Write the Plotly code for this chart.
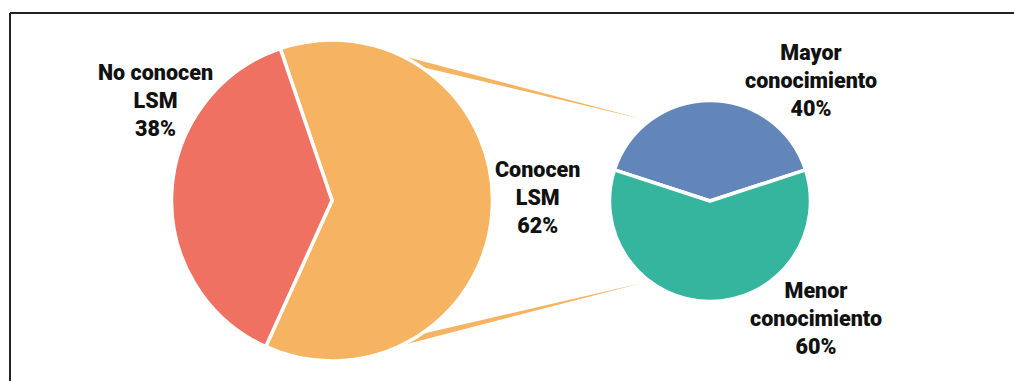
import math
import plotly.graph_objects as go

# ---------------- data ----------------
main_labels = ["Conocen LSM", "No conocen LSM"]
main_values = [62, 38]
sub_labels = ["Mayor conocimiento", "Menor conocimiento"]
sub_values = [40, 60]

main_colors = ["#F6B462", "#EE7161"]
sub_colors = ["#6386BA", "#35B59D"]

W, H = 1014, 381

def px(x, y):
    return x / W, (H - y) / H

# pie geometry (pixels)
L_CX, L_CY, L_R = 332, 200.5, 160.5
R_CX, R_CY, R_R = 710, 201, 100.5

def dom(cx, cy, r):
    x0, y1 = px(cx - r, cy - r)
    x1, y0 = px(cx + r, cy + r)
    return dict(x=[x0, x1], y=[y0, y1])

fig = go.Figure()
fig.add_trace(go.Pie(
    labels=main_labels, values=main_values, sort=False, direction="clockwise",
    rotation=-18.8,
    marker=dict(colors=main_colors, line=dict(color="white", width=3.5)),
    textinfo="none", hoverinfo="label+percent", showlegend=False,
    domain=dom(L_CX, L_CY, L_R),
))
fig.add_trace(go.Pie(
    labels=sub_labels, values=sub_values, sort=False, direction="clockwise",
    rotation=-sub_values[0] / sum(sub_values) * 180,
    marker=dict(colors=sub_colors, line=dict(color="white", width=3.5)),
    textinfo="none", hoverinfo="label+percent", showlegend=False,
    domain=dom(R_CX, R_CY, R_R),
))

# connectors (tapered wedges from main pie to sub pie)
r_main = L_R - 1.5
r_sub = R_R - 1.5

def on_main(deg):
    a = math.radians(deg)
    return L_CX + r_main * math.sin(a), L_CY - r_main * math.cos(a)

def on_sub(deg, k):
    a = math.radians(deg)
    return R_CX + r_sub * k * math.sin(a), R_CY - r_sub * k * math.cos(a)

shapes = []
for base_a, base_b, tip_ang in [(22, 32, -40), (148, 158, 220)]:
    p1 = px(*on_main(base_a))
    p2 = px(*on_main(base_b))
    p3 = px(*on_sub(tip_ang, 1.085))
    pc = px(L_CX, L_CY)
    path = f"M{pc[0]},{pc[1]} L{p1[0]},{p1[1]} L{p3[0]},{p3[1]} L{p2[0]},{p2[1]} Z"
    shapes.append(dict(type="path", xref="paper", yref="paper", path=path,
                       fillcolor=main_colors[0], line=dict(width=0), layer="below"))

# frame (top and left border)
tl = px(10, 13)
shapes.append(dict(type="line", xref="paper", yref="paper", x0=tl[0], y0=tl[1], x1=1.02, y1=tl[1],
                   line=dict(color="#222222", width=2)))
shapes.append(dict(type="line", xref="paper", yref="paper", x0=tl[0], y0=tl[1], x1=tl[0], y1=-0.05,
                   line=dict(color="#222222", width=2)))

FONT = "Roboto, Liberation Sans, sans-serif"

def label_text(name, value):
    words = name.split(" ")
    first = " ".join(words[:-1])
    return f"{first}<br>{words[-1]}<br>{value}%"

label_pos = {
    "No conocen LSM": (155, 100),
    "Conocen LSM": (537, 197),
    "Mayor conocimiento": (811, 80),
    "Menor conocimiento": (816, 318),
}
annotations = []
for names, vals in [(main_labels, main_values), (sub_labels, sub_values)]:
    for n, v in zip(names, vals):
        x, y = px(*label_pos[n])
        annotations.append(dict(text=label_text(n, v), x=x, y=y, xref="paper", yref="paper",
                                xanchor="center", yanchor="middle", showarrow=False,
                                font=dict(family=FONT, size=21.5, color="#111111", weight=900)))

fig.update_layout(
    width=W, height=H, margin=dict(l=0, r=0, t=0, b=0),
    paper_bgcolor="white", plot_bgcolor="white",
    shapes=shapes, annotations=annotations,
)

fig.write_html("out.html")
